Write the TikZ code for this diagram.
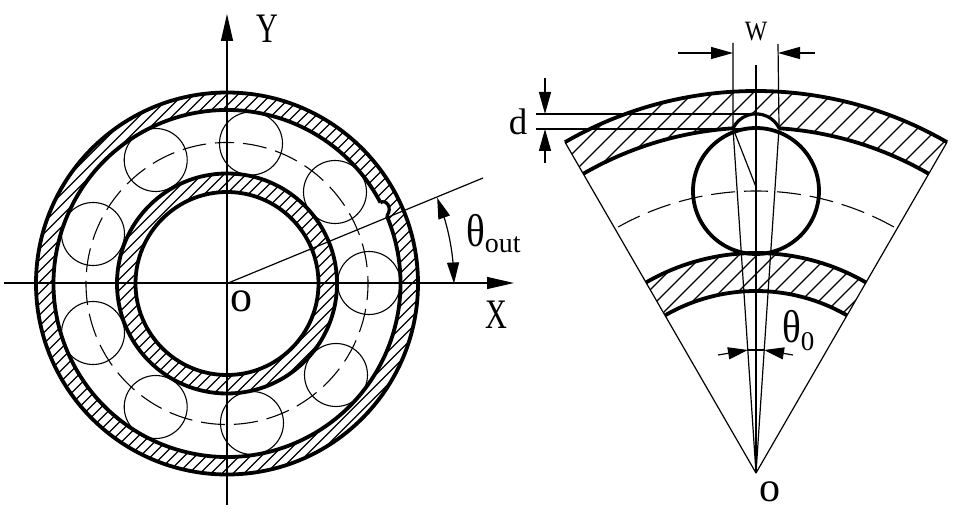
\documentclass[tikz,border=0pt]{standalone}
\usepackage{fontspec}
\setmainfont{Liberation Serif}
\newfontfamily\narrowfont[FakeStretch=0.72]{Liberation Serif}
\newfontfamily\wfont[FakeStretch=0.85]{Liberation Serif}
\newfontfamily\thetafont[FakeStretch=0.85]{Liberation Serif}
\usetikzlibrary{arrows.meta,bending}
\tikzset{
  thin line/.style={line width=1.2pt},
  thick line/.style={line width=3.8pt},
  ball line/.style={line width=1.1pt},
  hatch line/.style={line width=1.25pt},
  dash line/.style={line width=1.1pt,dash pattern=on 24pt off 9pt,dash phase=12pt},
  axis head/.style={-{Triangle[length=27pt,width=12pt]}},
  dim head/.style={-{Triangle[length=22pt,width=12pt]}},
  small head/.style={-{Triangle[length=20pt,width=12pt]}},
  txt/.style={inner sep=0pt,anchor=center},
}
\begin{document}
\begin{tikzpicture}[x=1pt,y=1pt]
\useasboundingbox (0,0) rectangle (969,520);
\fill[white] (0,0) rectangle (969,520);
\coordinate (L) at (227,236.5);
\coordinate (R) at (756,47);
% ---------- left: whole bearing
\begin{scope}[shift={(L)}]
  \begin{scope}
    \clip (0,0) circle (191);
    \foreach \a in {-332,-321,...,330} \draw[hatch line] (\a-300,-300) -- (\a+300,300);
  \end{scope}
  \coordinate (GA) at (27.8:173.5);
  \coordinate (GB) at (22.9:173.5);
  \fill[white] (0,0) circle (173.5);
  \fill[white] (GA) .. controls (159,84.5) and (166,76) .. (GB) -- cycle;
  \begin{scope}
    \clip (0,0) circle (110);
    \foreach \a in {-200,-189,...,200} \draw[hatch line] (\a-200,-200) -- (\a+200,200);
  \end{scope}
  \fill[white] (0,0) circle (91.5);
  \draw[dash line] (90:141) arc[start angle=90,end angle=450,radius=141];
  \draw[thick line] (0,0) circle (191);
  \draw[thick line] (0,0) circle (110);
  \draw[thick line] (0,0) circle (91.5);
  \draw[thick line] (GA) arc[start angle=27.8,end angle=382.9,radius=173.5];
  \draw[line width=3.2pt] (GA) .. controls (159,84.5) and (166,76) .. (GB);
\end{scope}
\foreach \n/\x/\y in {A/251/143.5,B/155.7/160,C/93/234,D/93/333,E/155.7/407,F/252/423,G/336/375,H/369/283,I/335/192}
  \draw[ball line] (\x,520-\y) circle (31.5);
\coordinate (XS) at (4,237);
\coordinate (XE) at (514,237);
\coordinate (YS) at (227,15);
\coordinate (YE) at (227,506);
\coordinate (TE) at (483,342);
\draw[thin line,axis head] (XS) -- (XE);
\draw[thin line,axis head] (YS) -- (YE);
\draw[thin line] (L) -- (TE);
\begin{scope}[shift={(L)}]
  \draw[thin line,{Triangle[length=21pt,width=12pt]}-{Triangle[length=21pt,width=12pt]}] (0:227) arc[start angle=0,end angle=22.2,radius=227];
\end{scope}
\node[txt] (ly) at (267,491) {\narrowfont\fontsize{42}{42}\selectfont Y};
\node[txt] (lx) at (496,205) {\narrowfont\fontsize{42}{42}\selectfont X};
\node[txt] (lo) at (241,219) {\fontsize{44}{44}\selectfont o};
\node[inner sep=0pt,anchor=base west] (lt) at (466,273) {\thetafont\fontsize{46}{46}\selectfont θ\raisebox{-6pt}{\fontsize{28}{28}\rmfamily\selectfont out}};
% ---------- right: sector
\begin{scope}[shift={(R)}]
  \begin{scope}
    \clip (120:382) arc[start angle=120,end angle=60,radius=382] -- (60:345.5) arc[start angle=60,end angle=120,radius=345.5] -- cycle;
    \foreach \a in {-583,-563,...,-103} \draw[hatch line] (\a+100,100) -- (\a+450,450);
  \end{scope}
  \begin{scope}
    \clip (120:220) arc[start angle=120,end angle=60,radius=220] -- (60:182) arc[start angle=60,end angle=120,radius=182] -- cycle;
    \foreach \a in {-343,-325,...,-73} \draw[hatch line] (\a+50,50) -- (\a+300,300);
  \end{scope}
  \coordinate (GL) at (93.82:345.5);
  \coordinate (GR) at (86.18:345.5);
  \coordinate (BC) at (0,282);
  \fill[white] (GL) arc[start angle=154,end angle=26,radius=25.7] -- cycle;
  \fill[white] (BC) circle (63);
  \draw[dash line] (90:282) arc[start angle=90,end angle=120,radius=282];
  \draw[dash line] (90:282) arc[start angle=90,end angle=60,radius=282];
  \draw[thick line] (120:382) arc[start angle=120,end angle=60,radius=382];
  \draw[thick line] (120:345.5) arc[start angle=120,end angle=93.82,radius=345.5];
  \draw[thick line] (60:345.5) arc[start angle=60,end angle=86.18,radius=345.5];
  \draw[line width=3.2pt] (GL) arc[start angle=154,end angle=26,radius=25.7];
  \draw[thick line] (120:220) arc[start angle=120,end angle=60,radius=220];
  \draw[thick line] (120:182) arc[start angle=120,end angle=60,radius=182];
  \draw[line width=3.8pt] (BC) circle (63);
  \coordinate (EL) at (120:382);
  \coordinate (ER) at (60:382);
\end{scope}
\coordinate (WLT) at (733,477);
\coordinate (WRT) at (778,476);
\coordinate (CT) at (756,455);
\coordinate (PE) at (756,333);
\coordinate (D1S) at (536,406);
\coordinate (D1E) at (756,406);
\coordinate (D2S) at (536,391);
\coordinate (D2E) at (756,391);
\draw[thin line] (R) -- (EL);
\draw[thin line] (R) -- (ER);
\draw[thin line] (R) -- (CT);
\draw[thin line] (R) -- (GL) -- (WLT);
\draw[thin line] (R) -- (GR) -- (WRT);
\draw[thin line] (GL) -- (PE);
\draw[thin line] (D1S) -- (D1E);
\draw[thin line] (D2S) -- (D2E);
\coordinate (DU) at (545,442);
\coordinate (DUT) at (545,406);
\coordinate (DL) at (545,357);
\coordinate (DLT) at (545,391);
\draw[thin line,dim head] (DU) -- (DUT);
\draw[thin line,dim head] (DL) -- (DLT);
\coordinate (WA) at (678,467);
\coordinate (WAT) at (733,467);
\coordinate (WB) at (815,467);
\coordinate (WBT) at (778,467);
\draw[thin line,dim head] (WA) -- (WAT);
\draw[thin line,dim head] (WB) -- (WBT);
\coordinate (TA) at (718,165);
\coordinate (TAT) at (748,170);
\coordinate (TB) at (793,165);
\coordinate (TBT) at (764,170);
\draw[thin line,small head] (TA) -- (TAT);
\draw[thin line,small head] (TB) -- (TBT);
\draw[thin line] (TAT) -- (TBT);
\node[txt] (lw) at (756,488) {\wfont\fontsize{28}{28}\selectfont W};
\node[txt] (ld) at (518,398) {\fontsize{37}{37}\selectfont d};
\node[inner sep=0pt,anchor=base west] (l0) at (782,178) {\thetafont\fontsize{46}{46}\selectfont θ\raisebox{-8pt}{\fontsize{27}{27}\rmfamily\selectfont 0}};
\node[txt] (lo2) at (770,28) {\fontsize{42}{42}\selectfont o};
\end{tikzpicture}
\end{document}
